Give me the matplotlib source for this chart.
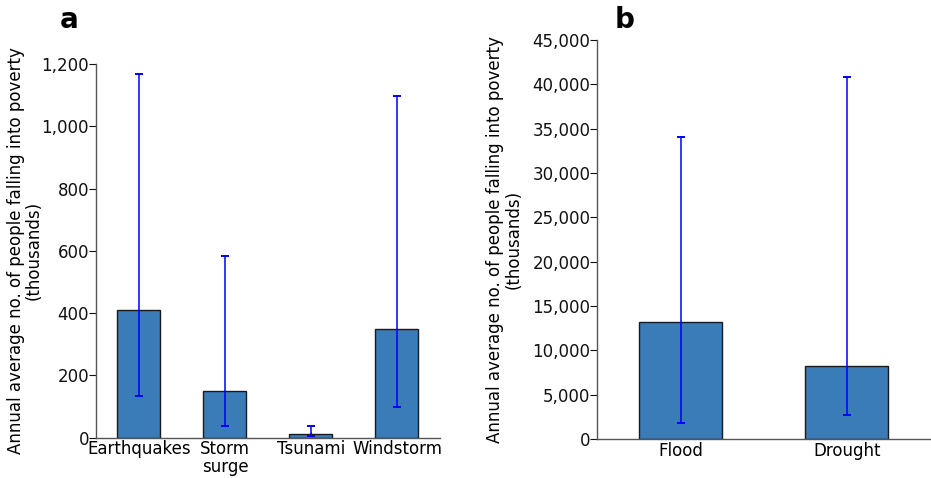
import matplotlib
matplotlib.use("Agg")
import matplotlib.pyplot as plt
from matplotlib.ticker import FuncFormatter

plt.rcParams["font.family"] = ["DejaVu Sans"]

cats_a = ["Earthquakes", "Storm\nsurge", "Tsunami", "Windstorm"]
vals_a = [410, 150, 11, 350]
err_lo_a = [135, 39, 5, 100]
err_hi_a = [1169, 583, 39, 1098]

cats_b = ["Flood", "Drought"]
vals_b = [13230, 8270]
err_lo_b = [1770, 2670]
err_hi_b = [34100, 40830]

ylabel = "Annual average no. of people falling into poverty\n(thousands)"
bar_color = "#3a7cb8"
fmt = FuncFormatter(lambda v, p: f"{int(v):,}")

fig = plt.figure(figsize=(9.31, 4.78), dpi=100)
ax_a = fig.add_axes([0.1031, 0.0843, 0.3695, 0.7817])
ax_b = fig.add_axes([0.6416, 0.0816, 0.3574, 0.8347])

def draw(ax, cats, vals, lo, hi, ylim, yticks, label_x):
    x = list(range(len(cats)))
    yerr = [[v - l for v, l in zip(vals, lo)], [h - v for v, h in zip(vals, hi)]]
    ax.bar(x, vals, width=0.5, color=bar_color, edgecolor="#1a1a1a", linewidth=1.0, zorder=2)
    ax.errorbar(x, vals, yerr=yerr, fmt="none", ecolor="#0000ff", elinewidth=1.1,
                capsize=3, capthick=1.4, zorder=3)
    ax.set_xlim(-0.5, len(cats) - 0.5)
    ax.set_ylim(*ylim)
    ax.set_yticks(yticks)
    ax.yaxis.set_major_formatter(fmt)
    ax.set_xticks(x)
    ax.set_xticklabels(cats, fontsize=12, linespacing=1.0)
    ax.tick_params(axis="y", direction="out", length=5, pad=0, labelsize=12, colors="#111111")
    ax.tick_params(axis="x", direction="in", length=4, pad=2, labelsize=12)
    for s in ["top", "right"]:
        ax.spines[s].set_visible(False)
    for s in ["left", "bottom"]:
        ax.spines[s].set_color("#555555")
        ax.spines[s].set_linewidth(1.0)
    ax.set_ylabel(ylabel, fontsize=12, linespacing=1.0, va="center")
    ax.yaxis.set_label_coords(label_x, 0.5)

draw(ax_a, cats_a, vals_a, err_lo_a, err_hi_a, (0, 1200),
     [0, 200, 400, 600, 800, 1000, 1200], -0.206)
draw(ax_b, cats_b, vals_b, err_lo_b, err_hi_b, (0, 45000),
     list(range(0, 45001, 5000)), -0.279)

fig.text(60 / 931, 1 - 20 / 478, "a", fontsize=20, fontweight="bold", va="center", ha="left")
fig.text(615 / 931, 1 - 20 / 478, "b", fontsize=20, fontweight="bold", va="center", ha="left")

fig.savefig("out.png", dpi=100)
